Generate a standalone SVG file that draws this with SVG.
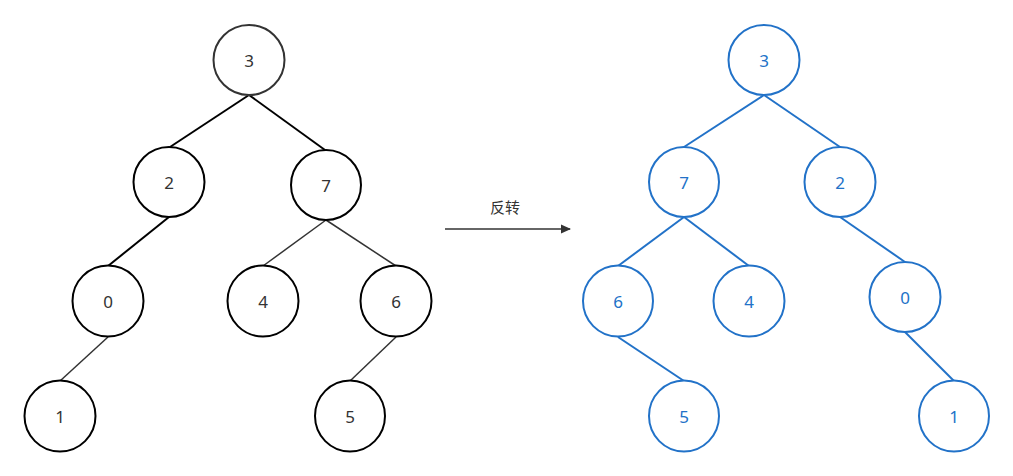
<svg xmlns="http://www.w3.org/2000/svg" width="1013" height="476" viewBox="0 0 1013 476">
<style>
.n ellipse{fill:#fff;stroke-width:2}
.l ellipse{stroke:#000}
.b ellipse{stroke:#2272c8}
.n text{font-family:"Noto Sans","Noto Sans CJK SC",sans-serif;font-size:17px;text-anchor:middle;dominant-baseline:central}
.l text{fill:#333}
.b text{fill:#2272c8}
.e1{stroke:#000;stroke-width:2;fill:none}
.e2{stroke:#333;stroke-width:1.5;fill:none}
.e3{stroke:#2272c8;stroke-width:2;fill:none}
.lbl{font-family:"Noto Sans CJK SC",sans-serif;font-size:15px;fill:#333;text-anchor:middle}
</style>
<defs>
<marker id="ah" markerWidth="10" markerHeight="10" refX="9" refY="5" orient="auto" markerUnits="userSpaceOnUse" viewBox="0 0 10 10">
<path d="M0,0.5 L10,5 L0,9.5 Z" fill="#333"/>
</marker>
</defs>
<rect width="1013" height="476" fill="#fff"/>
<g id="connectors">
<line class="e1" x1="249" y1="95" x2="170" y2="147"/>
<line class="e1" x1="249" y1="95" x2="325" y2="150"/>
<line class="e1" x1="169" y1="217" x2="108" y2="266"/>
<line class="e2" x1="108" y1="337" x2="60" y2="381"/>
<line class="e2" x1="326" y1="220" x2="263" y2="266"/>
<line class="e2" x1="326" y1="220" x2="396" y2="266"/>
<line class="e2" x1="396" y1="337" x2="350" y2="381"/>
<line class="e3" x1="764" y1="95" x2="684" y2="147"/>
<line class="e3" x1="764" y1="95" x2="840" y2="147"/>
<line class="e3" x1="684" y1="217" x2="618" y2="266"/>
<line class="e3" x1="684" y1="217" x2="749" y2="266"/>
<line class="e3" x1="840" y1="217" x2="905" y2="262"/>
<line class="e3" x1="618" y1="337" x2="684" y2="381"/>
<line class="e3" x1="905" y1="332" x2="954" y2="381"/>
<line x1="445" y1="229" x2="570" y2="229" stroke="#333" stroke-width="1.5" marker-end="url(#ah)"/>
</g>
<text class="lbl" x="505" y="213">反转</text>
<g id="L3" class="n l"><ellipse cx="249" cy="60" rx="35.5" ry="35" style="stroke:#333"/><text x="249" y="60">3</text></g>
<g id="L2" class="n l"><ellipse cx="169" cy="182" rx="35.5" ry="35"/><text x="169" y="182">2</text></g>
<g id="L7" class="n l"><ellipse cx="326" cy="185" rx="35" ry="35"/><text x="326" y="185">7</text></g>
<g id="L0" class="n l"><ellipse cx="108" cy="301" rx="35.5" ry="35.5"/><text x="108" y="301">0</text></g>
<g id="L1" class="n l"><ellipse cx="60" cy="416" rx="35.5" ry="35.5"/><text x="60" y="416">1</text></g>
<g id="L4" class="n l"><ellipse cx="263" cy="301" rx="35.5" ry="35.5"/><text x="263" y="301">4</text></g>
<g id="L6" class="n l"><ellipse cx="396" cy="301" rx="35.5" ry="35.5"/><text x="396" y="301">6</text></g>
<g id="L5" class="n l"><ellipse cx="350" cy="416" rx="35" ry="35.5"/><text x="350" y="416">5</text></g>
<g id="R3" class="n b"><ellipse cx="764" cy="60" rx="35.5" ry="35"/><text x="764" y="60">3</text></g>
<g id="R7" class="n b"><ellipse cx="684" cy="182" rx="35" ry="35"/><text x="684" y="182">7</text></g>
<g id="R2" class="n b"><ellipse cx="840" cy="182" rx="35.5" ry="35"/><text x="840" y="182">2</text></g>
<g id="R6" class="n b"><ellipse cx="618" cy="301" rx="35" ry="35.5"/><text x="618" y="301">6</text></g>
<g id="R4" class="n b"><ellipse cx="749" cy="301" rx="35.5" ry="35.5"/><text x="749" y="301">4</text></g>
<g id="R0" class="n b"><ellipse cx="905" cy="297" rx="35.5" ry="35"/><text x="905" y="297">0</text></g>
<g id="R5" class="n b"><ellipse cx="684" cy="416" rx="35" ry="35.5"/><text x="684" y="416">5</text></g>
<g id="R1" class="n b"><ellipse cx="954" cy="416" rx="35" ry="35.5"/><text x="954" y="416">1</text></g>
</svg>
